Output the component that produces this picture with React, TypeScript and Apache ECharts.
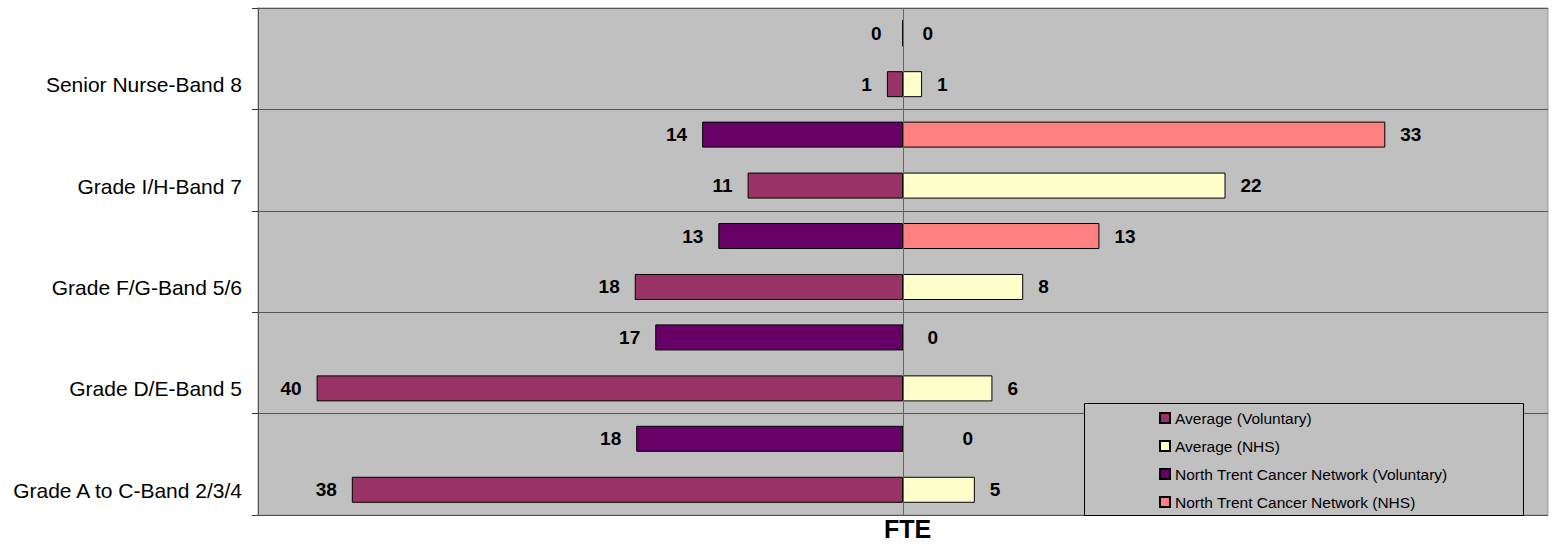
import React, { useEffect, useRef } from "react";
import * as echarts from "echarts";

const categories = [
  "Grade A to C-Band 2/3/4",
  "Grade D/E-Band 5",
  "Grade F/G-Band 5/6",
  "Grade I/H-Band 7",
  "Senior Nurse-Band 8",
];
const avgVoluntary = [37.6, 40.0, 18.3, 10.6, 1.1];
const avgNHS = [4.9, 6.1, 8.2, 22.0, 1.3];
const ntVoluntary = [18.2, 16.9, 12.6, 13.7, 0];
const ntNHS = [0, 0, 13.4, 32.9, 0];

const seriesNames = [
  "Average (Voluntary)",
  "Average (NHS)",
  "North Trent Cancer Network (Voluntary)",
  "North Trent Cancer Network (NHS)",
];

const FONT = "'Liberation Sans', Arial, sans-serif";

// label offsets (px) used for zero-length bars, per category index
const ntVolZeroDist = [21, 21, 21, 21, 21];
const ntNhsZeroDist = [59, 24, 20, 20, 19];

function makeSeries(
  name: string,
  values: number[],
  color: string,
  stack: string,
  side: "left" | "right",
  zeroDist: number[] = [22, 22, 22, 22, 22]
) {
  return {
    name,
    type: "bar",
    stack,
    stackStrategy: side === "left" ? "negative" : "positive",
    barWidth: 26,
    barGap: "96%",
    itemStyle: { color, borderColor: "#000", borderWidth: 1 },
    label: {
      show: true,
      position: side,
      distance: 15,
      formatter: (p: any) => String(Math.round(Math.abs(p.value))),
      fontFamily: FONT,
      fontWeight: "bold",
      fontSize: 19,
      color: "#000",
    },
    data: values.map((v, i) => ({
      value: side === "left" ? -v : v,
      label: v === 0 ? { distance: zeroDist[i] } : undefined,
    })),
  };
}

export default function App() {
  const ref = useRef<HTMLDivElement>(null);
  useEffect(() => {
    if (!ref.current) return;
    const chart = echarts.init(ref.current, null, { renderer: "svg" });
    const s1: any = makeSeries(seriesNames[2], ntVoluntary, "#660066", "nt", "left", ntVolZeroDist);
    s1.markLine = {
      silent: true,
      symbol: "none",
      label: { show: false },
      lineStyle: { color: "#666", width: 1, type: "solid" },
      data: [{ xAxis: 0 }],
    };
    chart.setOption({
      animation: false,
      title: {
        text: "FTE",
        left: 884,
        top: 516,
        padding: 0,
        textStyle: { fontFamily: FONT, fontWeight: "bold", fontSize: 25, color: "#000" },
      },
      grid: {
        left: 258,
        right: 5,
        top: 8,
        bottom: 33,
        show: true,
        backgroundColor: "#C0C0C0",
        borderColor: "#999",
        borderWidth: 1,
      },
      xAxis: {
        type: "value",
        min: -44,
        max: 44,
        axisLine: { show: false },
        axisTick: { show: false },
        axisLabel: { show: false },
        splitLine: { show: false },
      },
      yAxis: {
        type: "category",
        data: categories,
        axisLine: { show: true, onZero: false, lineStyle: { color: "#555", width: 1 } },
        axisTick: { show: true, length: 6, lineStyle: { color: "#333" } },
        axisLabel: {
          fontFamily: FONT,
          fontSize: 21,
          color: "#000",
          margin: 16,
          verticalAlign: "top",
          lineHeight: 52,
        },
        splitLine: { show: true, lineStyle: { color: "#555", width: 1 } },
      },
      legend: {
        data: seriesNames,
        orient: "vertical",
        left: 1159,
        top: 409,
        padding: 0,
        itemWidth: 10,
        itemHeight: 10,
        itemGap: 10,
        icon: "rect",
        z: 20,
        textStyle: { fontFamily: FONT, fontSize: 15.5, color: "#000", lineHeight: 18 },
      },
      graphic: [
        {
          type: "rect",
          z: 15,
          shape: { x: 1084.5, y: 403.5, width: 439, height: 112 },
          style: { fill: "#C0C0C0", stroke: "#000", lineWidth: 1 },
        },
      ],
      series: [
        s1,
        makeSeries(seriesNames[3], ntNHS, "#FF8080", "nt", "right", ntNhsZeroDist),
        makeSeries(seriesNames[0], avgVoluntary, "#993366", "avg", "left"),
        makeSeries(seriesNames[1], avgNHS, "#FFFFCC", "avg", "right"),
      ],
    });
    return () => chart.dispose();
  }, []);
  return (
    <div
      ref={ref}
      style={{ position: "absolute", left: 0, top: 0, width: 1553, height: 548 }}
    />
  );
}
